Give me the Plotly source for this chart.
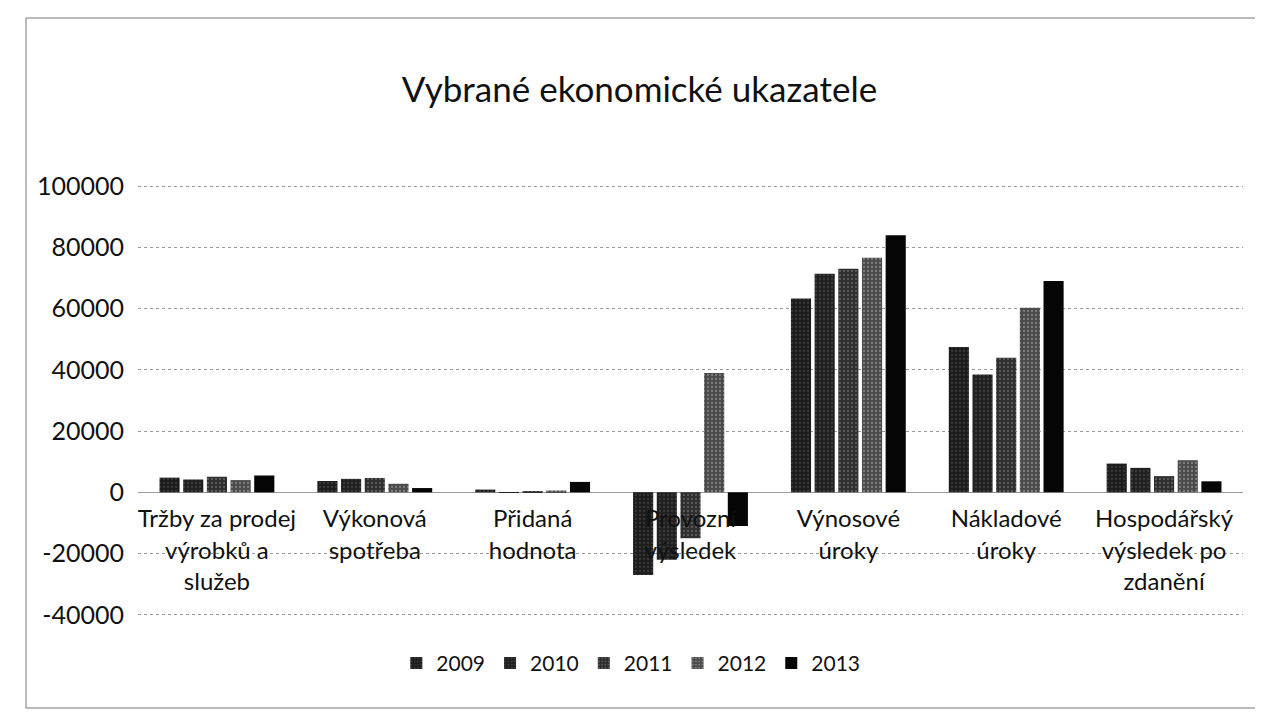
import plotly.graph_objects as go

categories = [
    "Tržby za prodej<br>výrobků a<br>služeb",
    "Výkonová<br>spotřeba",
    "Přidaná<br>hodnota",
    "Provozní<br>výsledek",
    "Výnosové<br>úroky",
    "Nákladové<br>úroky",
    "Hospodářský<br>výsledek po<br>zdanění",
]
years = ["2009", "2010", "2011", "2012", "2013"]
v2009 = [4800, 3700, 900, -27000, 63300, 47500, 9400]
v2010 = [4200, 4400, 100, -22000, 71400, 38500, 8000]
v2011 = [5100, 4700, 300, -15000, 73000, 44000, 5300]
v2012 = [4000, 2800, 600, 39000, 76600, 60300, 10500]
v2013 = [5500, 1400, 3400, -11000, 84000, 69000, 3600]
series = [v2009, v2010, v2011, v2012, v2013]
y_ticks = [-40000, -20000, 0, 20000, 40000, 60000, 80000, 100000]

colors = ["#1c1c1c", "#202020", "#2e2e2e", "#4a4a4a", "#050505"]
pat_fg = ["#555555", "#555555", "#8a8a8a", "#b0b0b0", "#050505"]
pat_shape = [".", ".", ".", ".", ""]

font = "Lato, 'Open Sans', sans-serif"

fig = go.Figure()
for name, vals, c, fg, sh in zip(years, series, colors, pat_fg, pat_shape):
    fig.add_trace(go.Bar(
        name=name, x=categories, y=vals,
        marker=dict(color=c, line=dict(width=0),
                    pattern=dict(shape=sh, fgcolor=fg, size=4, solidity=0.25)),
    ))

y_lo, y_hi = -40400, 100400
zero_pos = (0 - y_lo) / (y_hi - y_lo)

fig.update_layout(
    width=1263, height=727,
    paper_bgcolor="white", plot_bgcolor="white",
    margin=dict(l=130, r=28, t=177, b=119),
    barmode="group", bargap=0.25, bargroupgap=0.15,
    font=dict(family=font, size=20, color="#111"),
    title=dict(text="Vybrané ekonomické ukazatele", x=0.5, xref="container",
               y=1 - 82 / 727, yref="container", yanchor="middle", xanchor="center",
               font=dict(size=35, family=font, color="#111")),
    legend=dict(orientation="h", x=0.446, xanchor="center", y=-0.11, yanchor="middle",
                font=dict(size=21, family=font, color="#111"), itemwidth=30,
                traceorder="normal"),
    xaxis=dict(anchor="free", position=zero_pos, showline=False, ticks="",
               showgrid=False, tickfont=dict(size=24, family=font, color="#111"),
               ticklabelstandoff=10),
    yaxis=dict(range=[y_lo, y_hi], tickvals=y_ticks,
               ticktext=[str(t) for t in y_ticks], showgrid=True,
               gridcolor="#9a9a9a", griddash="dot", gridwidth=1,
               zeroline=True, zerolinecolor="#9a9a9a", zerolinewidth=1,
               tickfont=dict(size=25, family=font, color="#111"), ticklabelstandoff=13,
               showline=False),
    shapes=[dict(type="rect", xref="paper", yref="paper",
                 x0=(18 - 130) / 1105, x1=(1255 - 130) / 1105,
                 y0=-(700 - 608) / 431, y1=1 + (177 - 10) / 431,
                 line=dict(color="#777", width=1), fillcolor="rgba(0,0,0,0)", layer="below")],
)

fig.write_html("out.html")
